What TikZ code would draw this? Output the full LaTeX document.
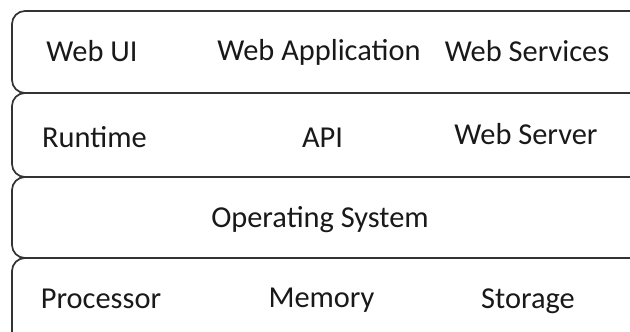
\documentclass[tikz,border=0pt]{standalone}
\usepackage{fontspec}
\setmainfont{Carlito}
\begin{document}
\begin{tikzpicture}[x=1pt,y=-1pt,
  layer/.style={draw=black!80,line width=1.7pt,rounded corners=13pt,fill=white},
  lbl/.style={anchor=base,inner sep=0pt,font=\fontsize{30.4}{36}\selectfont,text=black!90}]
\useasboundingbox (0,0) rectangle (630,332);
\clip (0,0) rectangle (630,332);
\draw[layer] (12,11) rectangle (660,93);
\draw[layer] (12,93) rectangle (660,177);
\draw[layer] (12,177) rectangle (660,258);
\draw[layer] (12,258) rectangle (660,360);
\node[lbl] (webui) at (92,61) {Web UI};
\node[lbl] (webapp) at (319,60) {Web Application};
\node[lbl] (websvc) at (527,61) {Web Services};
\node[lbl] (runtime) at (94.5,147) {Runtime};
\node[lbl] (api) at (322.5,147) {API};
\node[lbl] (websrv) at (526,144) {Web Server};
\node[lbl] (os) at (320,227) {Operating System};
\node[lbl] (proc) at (101,308) {Processor};
\node[lbl] (mem) at (321.5,307) {Memory};
\node[lbl] (stor) at (528,308) {Storage};
\end{tikzpicture}
\end{document}
